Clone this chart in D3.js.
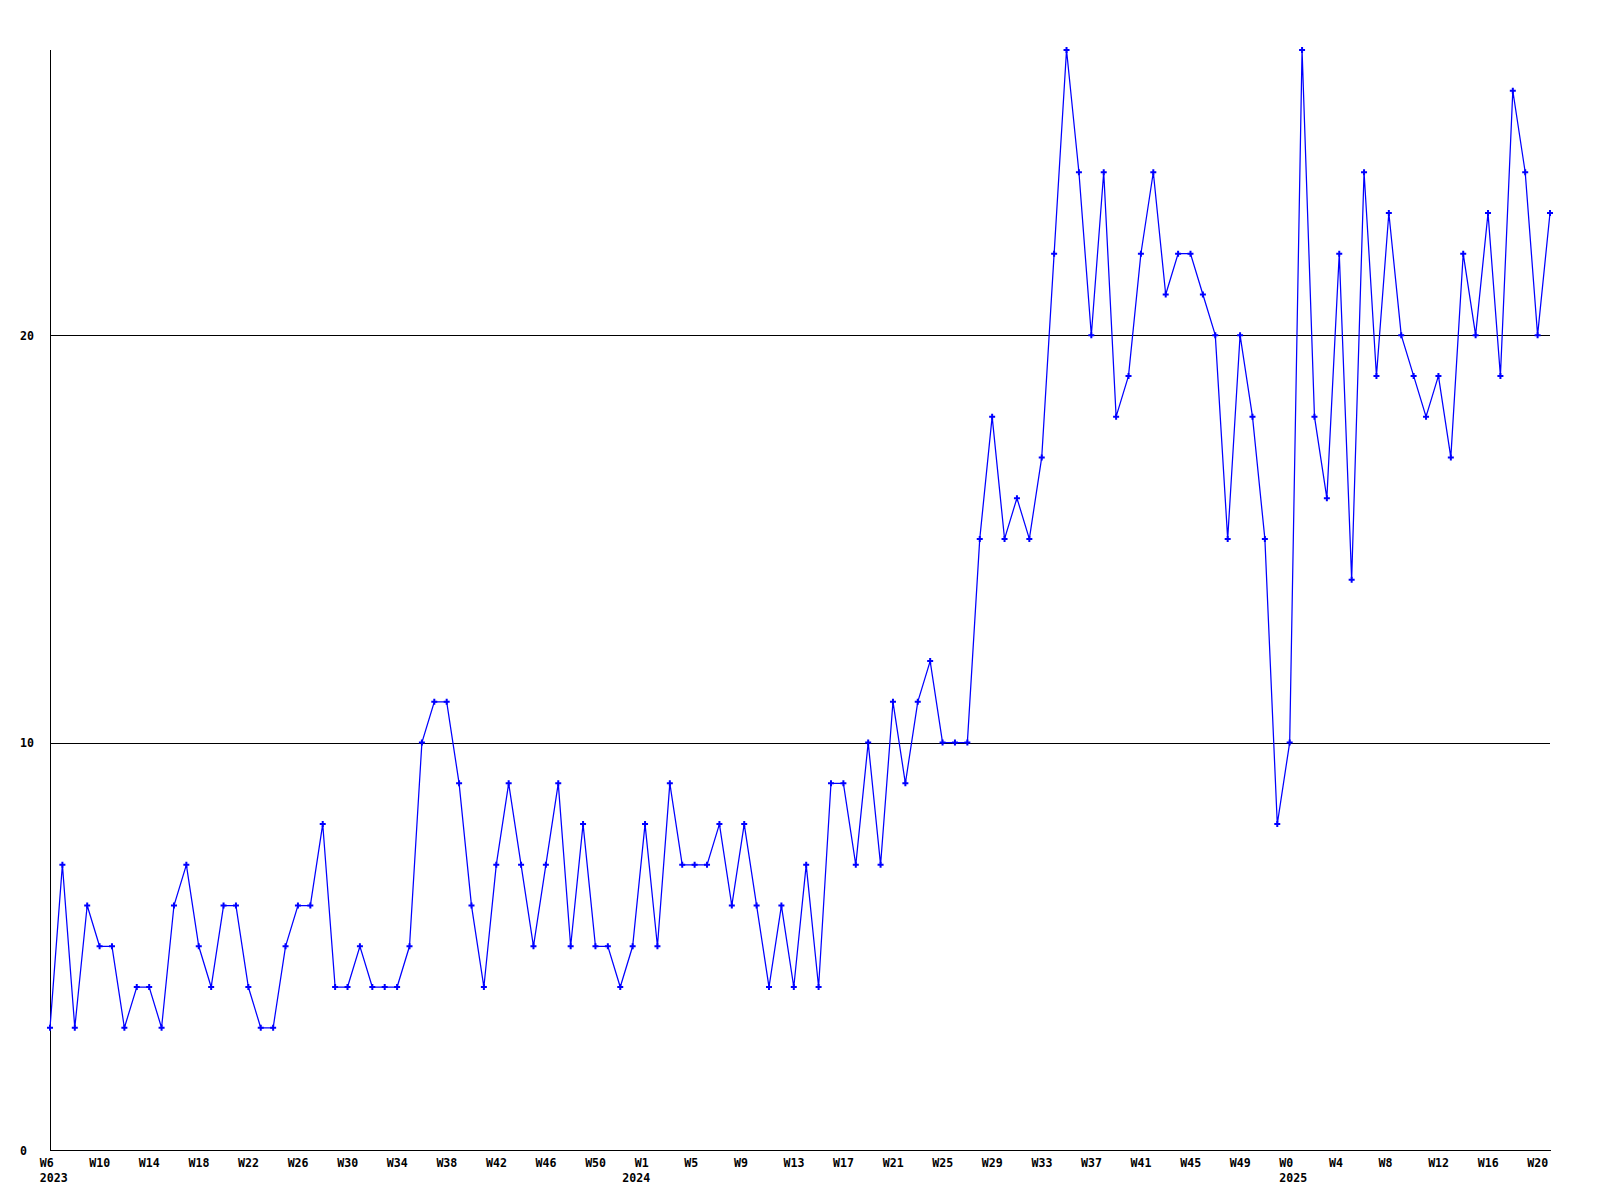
<!DOCTYPE html>
<html>
<head>
<meta charset="utf-8">
<script src="https://cdn.jsdelivr.net/npm/d3@7"></script>
<style>
  html, body { margin: 0; padding: 0; background: #fff; }
  svg text { font-family: "DejaVu Sans Mono", "Liberation Mono", monospace; font-weight: bold; font-size: 11.6px; fill: #000; }
</style>
</head>
<body>
<script>
// Week ranges per year (categories along the x axis)
const yearRanges = [
  { year: 2023, first: 6, last: 52 },
  { year: 2024, first: 0, last: 52 },
  { year: 2025, first: 0, last: 21 }
];

// Weekly values, one per category in order
const values2023 = [3,7,3,6,5,5,3,4,4,3,6,7,5,4,6,6,4,3,3,5,6,6,8,4,4,5,4,4,4,5,10,11,11,9,6,4,7,9,7,5,7,9,5,8,5,5,4];
const values2024 = [5,8,5,9,7,7,7,8,6,8,6,4,6,4,7,4,9,9,7,10,7,11,9,11,12,10,10,10,15,18,15,16,15,17,22,27,24,20,24,18,19,22,24,21,22,22,21,20,15,20,18,15,8];
const values2025 = [10,27,18,16,22,14,24,19,23,20,19,18,19,17,22,20,23,19,26,24,20,23];

const yTicks = [0, 10, 20];
const tickEvery = 4;

(function () {
// Build categories
const categories = [];
yearRanges.forEach(r => {
  for (let w = r.first; w <= r.last; w++) categories.push({ key: r.year + "-W" + w, year: r.year, week: w });
});
const values = values2023.concat(values2024, values2025);
const data = categories.map((c, i) => ({ ...c, value: values[i] }));

const W = 1600, H = 1200;
const mLeft = 50, mRight = 1550, mTop = 50, mBottom = 1150;

const svg = d3.select("body").append("svg")
  .attr("width", W).attr("height", H);

const x = d3.scalePoint().domain(categories.map(c => c.key)).range([mLeft, mRight]);
const y = d3.scaleLinear().domain([0, 27]).range([mBottom, mTop]);

// Gridlines
svg.append("g").selectAll("line").data(yTicks.filter(t => t > 0)).join("line")
  .attr("x1", mLeft).attr("x2", mRight)
  .attr("y1", d => Math.round(y(d)) + 0.5).attr("y2", d => Math.round(y(d)) + 0.5)
  .attr("stroke", "#000").attr("stroke-width", 1).attr("shape-rendering", "crispEdges");

// Axes lines
svg.append("line").attr("x1", mLeft + 0.5).attr("x2", mLeft + 0.5).attr("y1", mTop).attr("y2", mBottom)
  .attr("stroke", "#000").attr("shape-rendering", "crispEdges");
svg.append("line").attr("x1", mLeft).attr("x2", mRight + 1).attr("y1", mBottom + 0.5).attr("y2", mBottom + 0.5)
  .attr("stroke", "#000").attr("shape-rendering", "crispEdges");

// Y labels
svg.append("g").selectAll("text").data(yTicks).join("text")
  .attr("x", 20).attr("y", d => y(d) + 4.5)
  .text(d => d);

// X week labels
const tickData = data.filter((d, i) => i % tickEvery === 0);
svg.append("g").selectAll("text").data(tickData).join("text")
  .attr("x", d => x(d.key) - 10.3).attr("y", mBottom + 16.5)
  .text(d => "W" + d.week);

// Year labels at the first week of each year
const yearData = yearRanges.map(r => data.find(d => d.year === r.year));
svg.append("g").selectAll("text").data(yearData).join("text")
  .attr("x", d => x(d.key) - 10.3).attr("y", mBottom + 31.5)
  .text(d => d.year);

// Line
const line = d3.line().x(d => x(d.key)).y(d => y(d.value));
svg.append("path").datum(data)
  .attr("d", line).attr("fill", "none").attr("stroke", "#0000ff").attr("stroke-width", 1.25);

// Markers (small plus)
const plus = d3.symbol().type(d3.symbolCross).size(20);
svg.append("g").selectAll("path").data(data).join("path")
  .attr("transform", d => `translate(${x(d.key)},${y(d.value)})`)
  .attr("d", plus).attr("fill", "#0000ff");
})();
</script>
</body>
</html>
